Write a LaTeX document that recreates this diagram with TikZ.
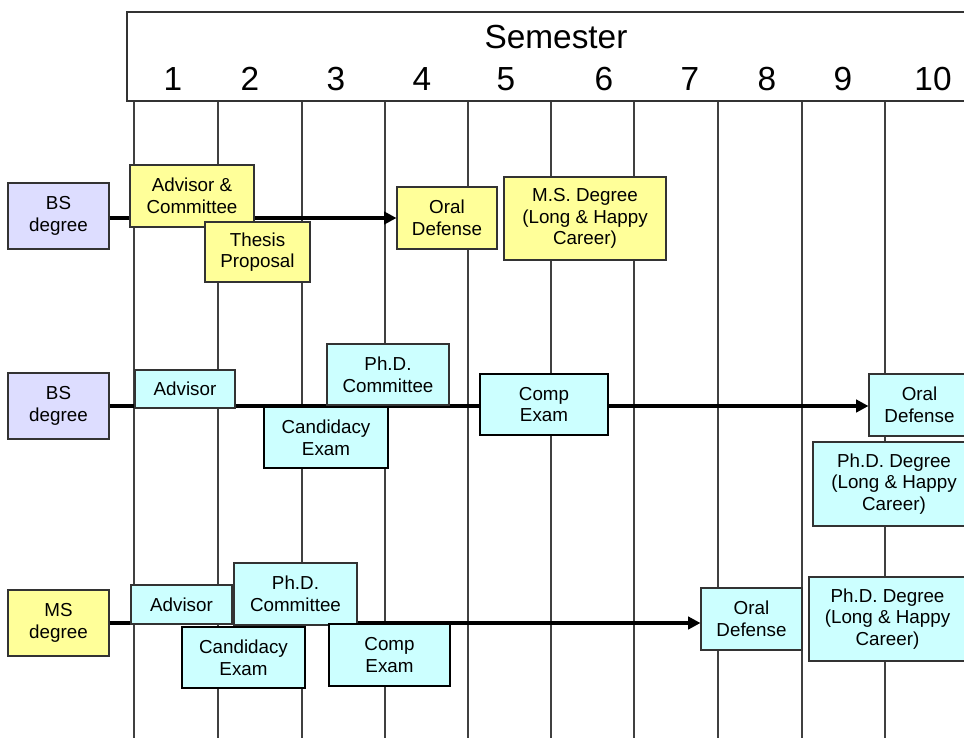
\documentclass[tikz,border=0pt]{standalone}
\usepackage{fontspec}
\setmainfont{Liberation Sans}
\usetikzlibrary{arrows.meta}
\definecolor{lav}{HTML}{DDDDFF}
\definecolor{msyellow}{HTML}{FFFF99}
\definecolor{phdcyan}{HTML}{CCFFFF}
\newcommand{\boxfont}{\fontsize{10.7}{12.3}\selectfont}
\newcommand{\headfont}{\fontsize{19}{22}\selectfont}
\tikzset{
  dims/.style 2 args={minimum width=#1*0.02cm, minimum height=#2*0.02cm},
  box/.style={draw=black!80, line width=0.6pt, align=center, font=\boxfont, inner sep=0pt},
  exam/.style={box, draw=black, line width=1.4pt},
  grid/.style={black!75, line width=0.6pt},
  flow/.style={-{Triangle[length=7pt,width=7pt]}, line width=2pt},
}
\begin{document}
\begin{tikzpicture}[x=0.02cm, y=-0.02cm]
    \useasboundingbox (0,0) rectangle (964,738);
    \foreach \x in {134,218,302,385,468,551,634,718,802,885}
      \draw[grid] (\x,101) -- (\x,738);
    \draw[line width=0.6pt, draw=black!80, fill=white] (127,12) rectangle (980,101);
    \node[font=\headfont, anchor=base] (sem) at (556,48) {Semester};
    \foreach \n/\x in {1/173,2/250,3/336,4/422,5/506,6/604,7/690,8/767,9/843,10/933}
      \node[font=\headfont, anchor=base] (s\n) at (\x,90) {\n};

    % M.S. track
    \node[box, fill=lav, dims={101}{66}] (bsA) at (58.5,216) {BS\\degree};
    \node[box, fill=msyellow, dims={100}{62}] (oralA) at (447,218) {Oral\\Defense};
    \draw[flow] (bsA.east |- oralA.west) -- (oralA.west);
    \node[box, fill=msyellow, dims={124}{62}] (advA) at (192,196) {Advisor \&\\Committee};
    \node[box, fill=msyellow, dims={105}{60}] (thesis) at (257.5,252) {Thesis\\Proposal};
    \node[box, fill=msyellow, dims={162}{83}] (msdeg) at (585,218.5) {M.S. Degree\\(Long \& Happy\\Career)};

    % Ph.D. track from BS
    \node[box, fill=lav, dims={101}{66}] (bsB) at (58.5,406) {BS\\degree};
    \node[box, fill=phdcyan, dims={101}{62}] (oralB) at (919.5,405) {Oral\\Defense};
    \draw[flow] (bsB.east) -- (bsB.east -| oralB.west);
    \node[box, fill=phdcyan, dims={100}{38}] (advB) at (185,389) {Advisor};
    \node[box, fill=phdcyan, dims={122}{61}] (phdcB) at (388,374.5) {Ph.D.\\Committee};
    \node[exam, fill=phdcyan, dims={124}{61}] (candB) at (326,437.5) {Candidacy\\Exam};
    \node[exam, fill=phdcyan, dims={128}{61}] (compB) at (544,404.5) {Comp\\Exam};
    \node[box, fill=phdcyan, dims={162}{84}] (phddegB) at (894,484) {Ph.D. Degree\\(Long \& Happy\\Career)};

    % Ph.D. track from MS
    \node[box, fill=msyellow, dims={101}{66}] (msC) at (58.5,623) {MS\\degree};
    \node[box, fill=phdcyan, dims={101}{62}] (oralC) at (751.5,619) {Oral\\Defense};
    \draw[flow] (msC.east) -- (msC.east -| oralC.west);
    \node[box, fill=phdcyan, dims={101}{39}] (advC) at (181.5,604.5) {Advisor};
    \node[box, fill=phdcyan, dims={123}{62}] (phdcC) at (295.5,594) {Ph.D.\\Committee};
    \node[exam, fill=phdcyan, dims={123}{61}] (candC) at (243.5,657.5) {Candidacy\\Exam};
    \node[exam, fill=phdcyan, dims={121}{62}] (compC) at (389.5,655) {Comp\\Exam};
    \node[box, fill=phdcyan, dims={157}{84}] (phddegC) at (887.5,619) {Ph.D. Degree\\(Long \& Happy\\Career)};
  \end{tikzpicture}
\end{document}
